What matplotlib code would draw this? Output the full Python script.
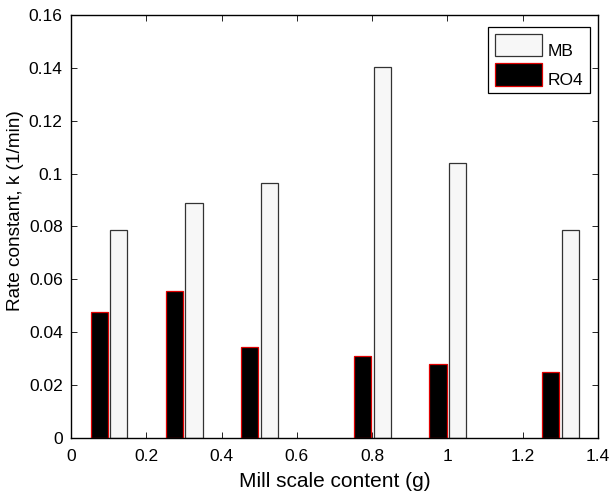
import matplotlib.pyplot as plt
import numpy as np

plt.rcParams['font.family'] = ['Liberation Sans', 'DejaVu Sans']

# mill scale loadings (g) and first-order rate constants (1/min)
content = [0.1, 0.3, 0.5, 0.8, 1.0, 1.3]
k_mb = [0.0788, 0.0887, 0.0966, 0.1403, 0.1040, 0.0788]
k_ro4 = [0.0477, 0.0557, 0.0344, 0.0309, 0.0281, 0.0251]

x = np.array(content)
w = 0.046

fig = plt.figure(figsize=(6.1, 4.96), dpi=100)
ax = fig.add_axes([0.1164, 0.117, 0.8636, 0.853])

ax.bar(x + 0.027, k_mb, width=w, color='#f7f7f7', edgecolor='#333333',
       linewidth=0.9, label='MB', zorder=2)
ax.bar(x - 0.025, k_ro4, width=w, color='black', edgecolor='#e00000',
       linewidth=0.9, label='RO4', zorder=2)

ax.set_xlim(0, 1.4)
ax.set_ylim(0, 0.16)
ax.set_xticks(np.arange(0, 1.41, 0.2))
ax.set_xticklabels(['0', '0.2', '0.4', '0.6', '0.8', '1', '1.2', '1.4'])
ax.set_yticks(np.arange(0, 0.161, 0.02))
ax.set_yticklabels(['0', '0.02', '0.04', '0.06', '0.08', '0.1', '0.12', '0.14', '0.16'])
ax.tick_params(direction='in', top=True, right=True, length=4, width=0.6,
               labelsize=12.5)
ax.tick_params(axis='x', pad=8)
ax.tick_params(axis='y', pad=6)
for s in ax.spines.values():
    s.set_linewidth(1.0)

ax.set_xlabel('Mill scale content (g)', fontsize=15, labelpad=6)
ax.set_ylabel('Rate constant, k (1/min)', fontsize=13.7)
ax.yaxis.set_label_coords(-0.089, 0.537)

leg = ax.legend(loc='upper right', bbox_to_anchor=(0.985, 0.9716),
                borderaxespad=0, fontsize=12.5, fancybox=False,
                framealpha=1, edgecolor='black', handlelength=2.7,
                handleheight=1.62, borderpad=0.4, labelspacing=0.4,
                handletextpad=0.3)
leg.get_frame().set_linewidth(0.9)
# labels sit at the bottom of their swatches
for t in leg.get_texts():
    t.set_y(-5)

fig.savefig('out.png', dpi=100)
